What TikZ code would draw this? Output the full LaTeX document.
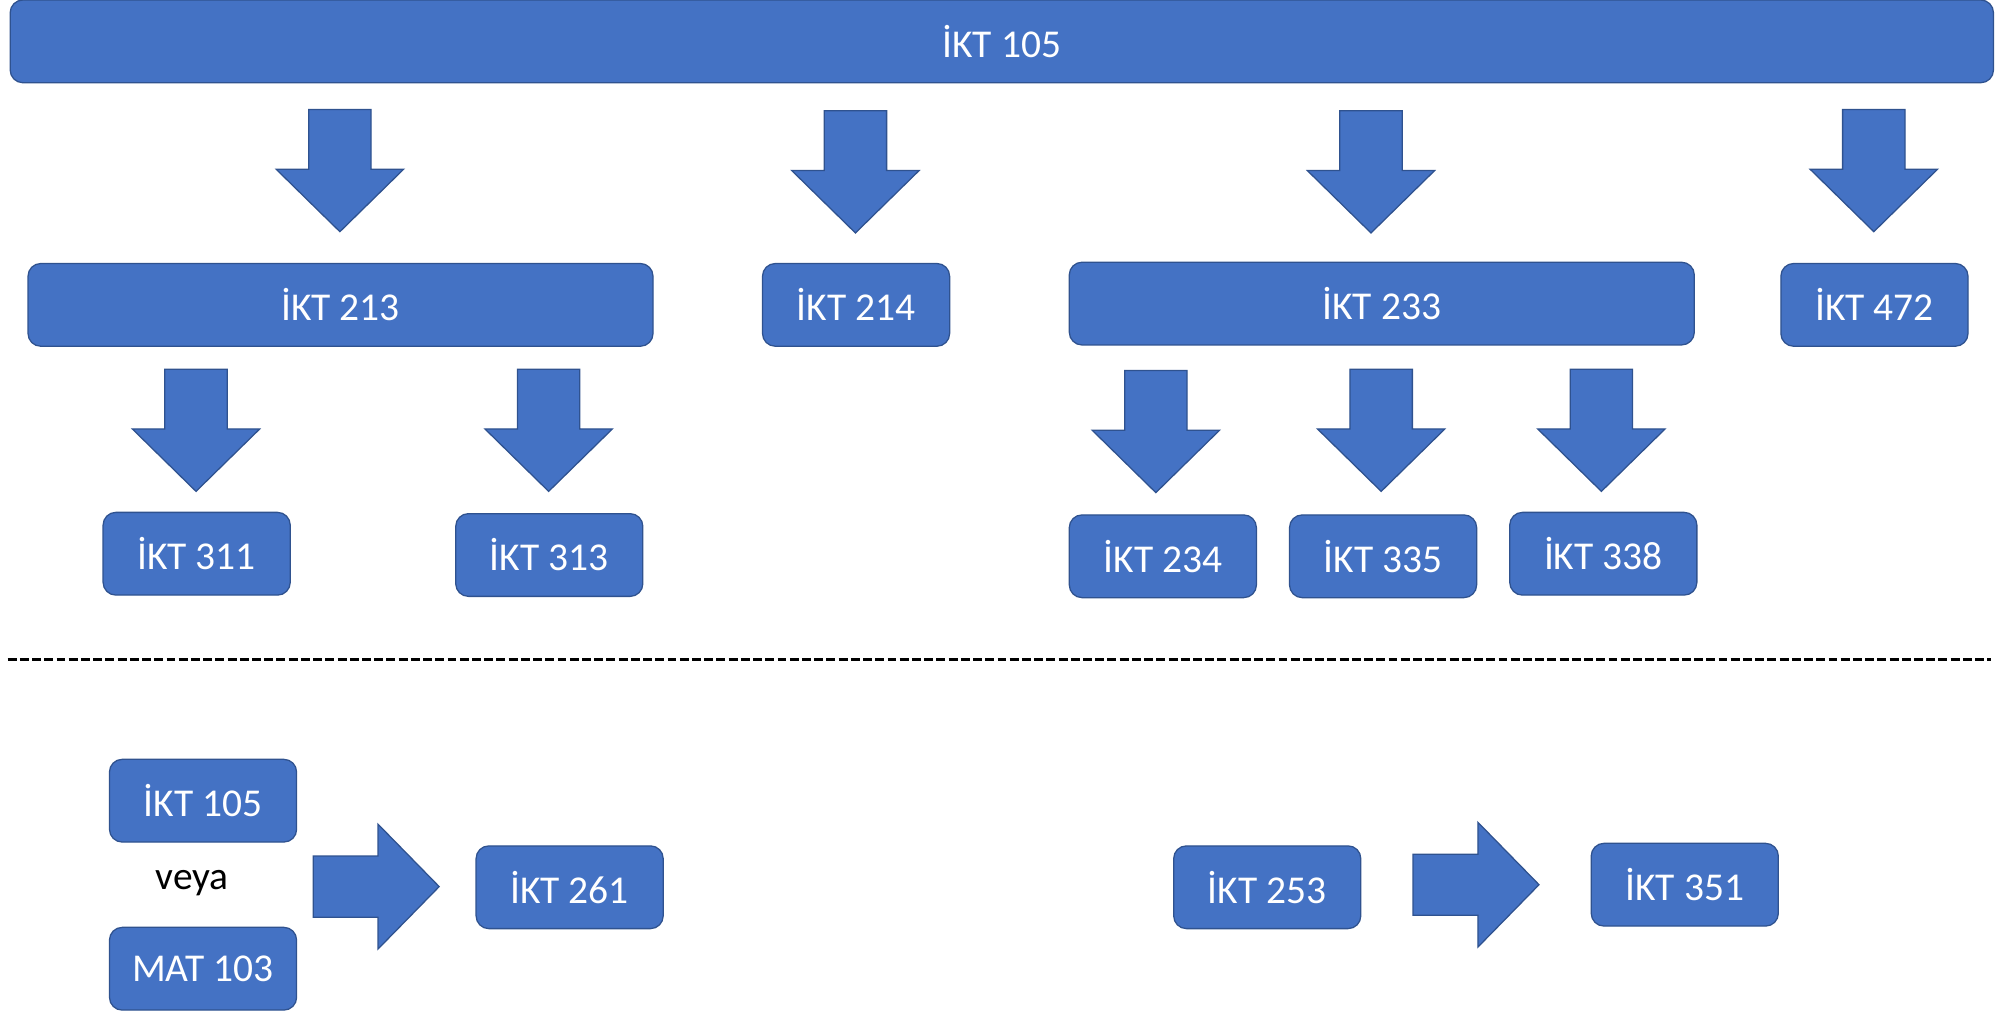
\documentclass[tikz,border=0pt]{standalone}
\usepackage{fontspec}
\setmainfont{Carlito}
\definecolor{boxfill}{HTML}{4472C4}
\definecolor{boxline}{HTML}{2F528F}
\tikzset{
  box/.style={draw=boxline, fill=boxfill, line width=1pt, rounded corners=10pt,
    text=white, font=\fontsize{31}{37}\selectfont, minimum height=65pt, inner sep=0pt},
  smallbox/.style={box, minimum width=147pt},
  blockarrow/.style={draw=boxline, fill=boxfill, line width=1pt, line join=miter},
  downarrow/.pic={\draw[blockarrow] (-24.5,0) -- (24.5,0) -- (24.5,47) -- (50,47) -- (0,96) -- (-50,47) -- (-24.5,47) -- cycle;},
  rightarrow/.pic={\draw[blockarrow] (0,-24) -- (51,-24) -- (51,-49) -- (99,0) -- (51,49) -- (51,24) -- (0,24) -- cycle;}
}
\begin{document}
\begin{tikzpicture}[x=1pt, y=-1pt]
\useasboundingbox (0,0) rectangle (1568,794);
% top bar
\node[box, minimum width=1558pt] (ikt105) at (787,32.5) {İKT 105};
% level 1 arrows
\pic at (267,86) {downarrow};
\pic at (672,87) {downarrow};
\pic at (1077,87) {downarrow};
\pic at (1472,86) {downarrow};
% level 1 boxes
\node[box, minimum width=491pt] (ikt213) at (267.5,239.5) {İKT 213};
\node[smallbox] (ikt214) at (672.5,239.5) {İKT 214};
\node[box, minimum width=491pt] (ikt233) at (1085.5,238.5) {İKT 233};
\node[smallbox] (ikt472) at (1472.5,239.5) {İKT 472};
% level 2 arrows
\pic at (154,290) {downarrow};
\pic at (431,290) {downarrow};
\pic at (908,291) {downarrow};
\pic at (1085,290) {downarrow};
\pic at (1258,290) {downarrow};
% level 2 boxes
\node[smallbox] (ikt311) at (154.5,435) {İKT 311};
\node[smallbox] (ikt313) at (431.5,436) {İKT 313};
\node[smallbox] (ikt234) at (913.5,437) {İKT 234};
\node[smallbox] (ikt335) at (1086.5,437) {İKT 335};
\node[smallbox] (ikt338) at (1259.5,435) {İKT 338};
% separator
\coordinate (sepL) at (6,518);
\coordinate (sepR) at (1564,518);
\draw[line width=2.4pt, dash pattern=on 7pt off 2.6pt] (sepL) -- (sepR);
% bottom left
\node[smallbox] (ikt105b) at (159.5,629) {İKT 105};
\node[text=black, font=\fontsize{31}{37}\selectfont, inner sep=0pt] (veya) at (151,694) {veya};
\node[smallbox] (mat103) at (159.5,761) {MAT 103};
\pic at (246,696.5) {rightarrow};
\node[smallbox] (ikt261) at (447.5,697) {İKT 261};
% bottom right
\node[smallbox] (ikt253) at (995.5,697) {İKT 253};
\pic at (1110,695) {rightarrow};
\node[smallbox] (ikt351) at (1323.5,695) {İKT 351};
\end{tikzpicture}
\end{document}
